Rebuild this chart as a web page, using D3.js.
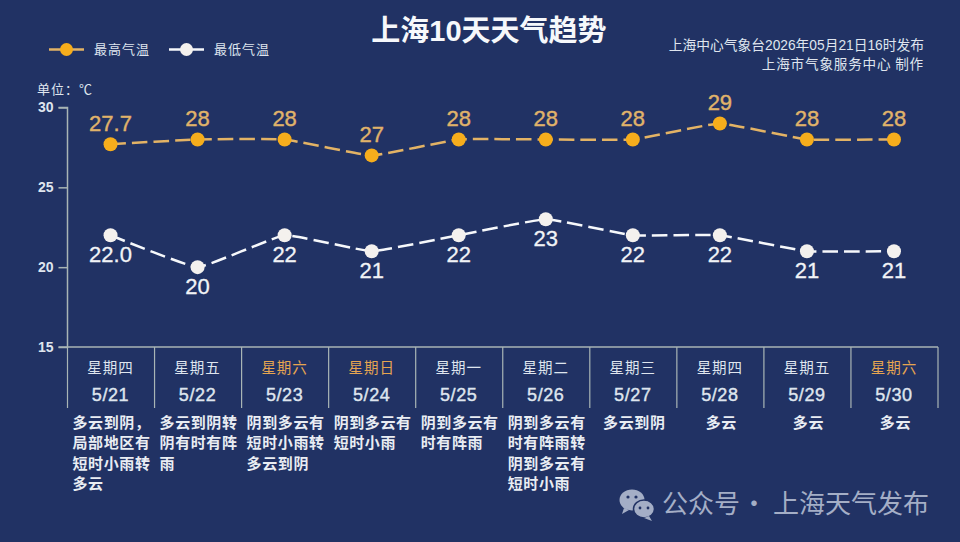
<!DOCTYPE html>
<html>
<head>
<meta charset="utf-8">
<script src="https://cdn.jsdelivr.net/npm/d3@7/dist/d3.min.js"></script>
<style>
html,body{margin:0;padding:0;background:#213264;}
svg{display:block;}
text{font-family:"Noto Sans CJK SC","Noto Sans",sans-serif;}
text.num,text.mix{font-family:"Liberation Sans","Noto Sans CJK SC",sans-serif;}
</style>
</head>
<body>
<svg id="chart" width="960" height="542"></svg>
<script>
const weekdays = ["星期四","星期五","星期六","星期日","星期一","星期二","星期三","星期四","星期五","星期六"];
const dates = ["5/21","5/22","5/23","5/24","5/25","5/26","5/27","5/28","5/29","5/30"];
const highTemps = [27.7,28,28,27,28,28,28,29,28,28];
const lowTemps = [22,20,22,21,22,23,22,22,21,21];
const highLabels = ["27.7","28","28","27","28","28","28","29","28","28"];
const lowLabels = ["22.0","20","22","21","22","23","22","22","21","21"];
const yTicks = [15,20,25,30];
const weather = [
  ["多云到阴\uFF0C","局部地区有","短时小雨转","多云"],
  ["多云到阴转","阴有时有阵","雨"],
  ["阴到多云有","短时小雨转","多云到阴"],
  ["阴到多云有","短时小雨"],
  ["阴到多云有","时有阵雨"],
  ["阴到多云有","时有阵雨转","阴到多云有","短时小雨"],
  ["多云到阴"],
  ["多云"],
  ["多云"],
  ["多云"]
];
const seriesNames = ["最高气温","最低气温"];

const ORANGE = "#f6ad1c", DASH_ORANGE = "#e3b365", LABEL_ORANGE = "#e0b36a", WHITE = "#f4f1ee",
      AXIS = "#a9b5b5", TEXT = "#dfe5ee", WEEKEND = "#e6a550", MARK = "#a4aec6";

const svg = d3.select("#chart");
const plotLeft = 67.5, plotRight = 938, plotTop = 107.5, plotBottom = 347;

const x = d3.scaleBand().domain(d3.range(dates.length)).range([plotLeft, plotRight]);
const y = d3.scaleLinear().domain([15,30]).range([plotBottom, plotTop]);
const cx = i => x(i) + x.bandwidth()/2 - 0.5;

// Title and credits
svg.append("text").attr("class","mix").attr("x",489).attr("y",41).attr("text-anchor","middle")
  .attr("font-size",29).attr("font-weight",700).attr("fill","#f6f8fb").text("上海10天天气趋势");
svg.append("text").attr("class","mix").attr("x",924).attr("y",50).attr("text-anchor","end")
  .attr("font-size",13.75).attr("fill",TEXT).text("上海中心气象台2026年05月21日16时发布");
svg.append("text").attr("x",924).attr("y",69).attr("text-anchor","end")
  .attr("font-size",13.6).attr("letter-spacing",0.8).attr("fill",TEXT).text("上海市气象服务中心 制作");

// Legend
const legend = [{x:49,color:DASH_ORANGE,dot:ORANGE,tx:94},{x:169,color:"#f6f8fb",dot:WHITE,tx:214}];
legend.forEach((l,i)=>{
  svg.append("line").attr("x1",l.x).attr("x2",l.x+35).attr("y1",49.5).attr("y2",49.5)
    .attr("stroke",l.color).attr("stroke-width",2.5);
  svg.append("circle").attr("cx",l.x+17.5).attr("cy",49.5).attr("r",6.5).attr("fill",l.dot);
  svg.append("text").attr("x",l.tx).attr("y",54).attr("font-size",13).attr("letter-spacing",1)
    .attr("fill",TEXT).text(seriesNames[i]);
});

// Value axis
svg.append("text").attr("x",37).attr("y",94).attr("font-size",13).attr("letter-spacing",1)
  .attr("fill",TEXT).text("单位\uFF1A\u2103");
const yAxis = d3.axisLeft(y).tickValues(yTicks).tickSize(9).tickPadding(5);
const yg = svg.append("g").attr("transform",`translate(${plotLeft},0)`).call(yAxis);
yg.select(".domain").attr("stroke",AXIS).attr("stroke-width",1.5).attr("d",`M-9,${plotTop}H0V${plotBottom}H-9`);
yg.selectAll(".tick line").attr("stroke",AXIS).attr("stroke-width",1.5);
yg.selectAll(".tick text").attr("font-size",14).attr("font-weight",700)
  .attr("fill",TEXT).style("font-family",'"Liberation Sans",sans-serif');

// Category axis: baseline with separators, weekdays and dates
const cellTop = plotBottom, cellBottom = 408;
svg.append("line").attr("x1",plotLeft).attr("x2",plotRight).attr("y1",cellTop).attr("y2",cellTop)
  .attr("stroke",AXIS).attr("stroke-width",1.5);
svg.selectAll("line.sep").data(d3.range(dates.length+1)).join("line").attr("class","sep")
  .attr("x1",i=>i<dates.length?x(i):plotRight).attr("x2",i=>i<dates.length?x(i):plotRight)
  .attr("y1",cellTop).attr("y2",cellBottom).attr("stroke",AXIS).attr("stroke-width",1.2);
svg.selectAll("text.wd").data(weekdays).join("text").attr("class","wd")
  .attr("x",(d,i)=>cx(i)).attr("y",373).attr("text-anchor","middle").attr("font-size",14.5)
  .attr("letter-spacing",1)
  .attr("fill",d=>(d==="星期六"||d==="星期日")?WEEKEND:TEXT).text(d=>d);
svg.selectAll("text.dt").data(dates).join("text").attr("class","dt num")
  .attr("x",(d,i)=>cx(i)).attr("y",401).attr("text-anchor","middle").attr("font-size",18)
  .attr("letter-spacing",0.6).attr("stroke",TEXT).attr("stroke-width",0.4)
  .attr("fill",TEXT).text(d=>d);

// Forecast text under each day; short texts are centred, long ones left aligned
weather.forEach((lines,i)=>{
  const single = lines.length===1;
  lines.forEach((t,j)=>{
    svg.append("text")
      .attr("x",single?x(i)+x.bandwidth()/2+1:x(i)+5)
      .attr("y",427.5+j*20.5)
      .attr("text-anchor",single?"middle":"start")
      .attr("font-size",15).attr("letter-spacing",0.6)
      .attr("font-weight",700).attr("fill","#e9edf3").text(t);
  });
});

// Temperature series
const line = d3.line().x((d,i)=>cx(i)).y(d=>y(d)).curve(d3.curveCardinal.tension(0.7));
svg.append("path").attr("d",line(highTemps)).attr("fill","none").attr("stroke",DASH_ORANGE)
  .attr("stroke-width",2.5).attr("stroke-dasharray","15.5,6");
svg.append("path").attr("d",line(lowTemps)).attr("fill","none").attr("stroke","#f6f8fb")
  .attr("stroke-width",2.5).attr("stroke-dasharray","15.5,6");

svg.selectAll("circle.hi").data(highTemps).join("circle").attr("class","hi")
  .attr("cx",(d,i)=>cx(i)).attr("cy",d=>y(d)).attr("r",7).attr("fill",ORANGE);
svg.selectAll("circle.lo").data(lowTemps).join("circle").attr("class","lo")
  .attr("cx",(d,i)=>cx(i)).attr("cy",d=>y(d)).attr("r",7).attr("fill",WHITE);

svg.selectAll("text.hl").data(highTemps).join("text").attr("class","hl num")
  .attr("x",(d,i)=>cx(i)).attr("y",d=>y(d)-13).attr("text-anchor","middle")
  .attr("font-size",22).attr("fill",LABEL_ORANGE).attr("stroke",LABEL_ORANGE).attr("stroke-width",0.4)
  .text((d,i)=>highLabels[i]);
svg.selectAll("text.ll").data(lowTemps).join("text").attr("class","ll num")
  .attr("x",(d,i)=>cx(i)).attr("y",d=>y(d)+27).attr("text-anchor","middle")
  .attr("font-size",22).attr("fill","#f1f3f6").attr("stroke","#f1f3f6").attr("stroke-width",0.3)
  .text((d,i)=>lowLabels[i]);

// Account watermark
const wm = svg.append("g").attr("fill",MARK);
wm.append("ellipse").attr("cx",632).attr("cy",500).attr("rx",12.5).attr("ry",10.5);
wm.append("path").attr("d","M624,508l-2,6l7,-4z");
wm.append("ellipse").attr("cx",644).attr("cy",509).attr("rx",10.5).attr("ry",9).attr("stroke","#213264").attr("stroke-width",1.5);
wm.append("path").attr("d","M649,516l3,5l-8,-3z");
svg.append("g").attr("fill","#213264").selectAll("circle")
  .data([[628,497,1.6],[636,497,1.6],[640,508,1.4],[648,508,1.4]]).join("circle")
  .attr("cx",d=>d[0]).attr("cy",d=>d[1]).attr("r",d=>d[2]);
svg.append("text").attr("x",662).attr("y",512.5).attr("font-size",26).attr("fill",MARK).text("公众号");
svg.append("text").attr("x",754).attr("y",512.5).attr("text-anchor","middle").attr("font-size",26).attr("fill",MARK).text("\u00B7");
svg.append("text").attr("x",929).attr("y",512.5).attr("text-anchor","end").attr("font-size",26).attr("fill",MARK).text("上海天气发布");
</script>
</body>
</html>
